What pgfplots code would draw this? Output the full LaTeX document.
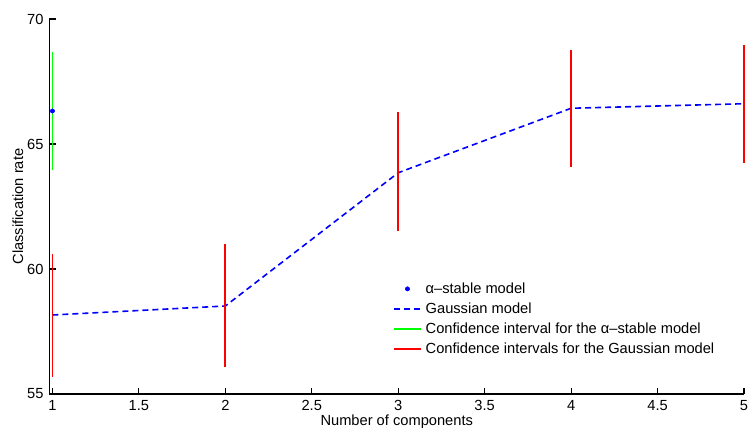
\documentclass[border=0pt]{standalone}
\usepackage{fontspec}
\setmainfont{Liberation Sans}
\usepackage{pgfplots}
\pgfplotsset{compat=1.18}
\begin{document}
\begin{tikzpicture}
\begin{axis}[
  scale only axis,
  width=520.875pt, height=281.25pt,
  xmin=0.983, xmax=5, ymin=55, ymax=70,
  axis lines=left,
  axis line style={-, line width=0.9pt},
  tick style={line width=0.9pt, black},
  major tick length=4.5pt,
  tick align=inside,
  xtick={1,1.5,2,2.5,3,3.5,4,4.5,5},
  ytick={55,60,65,70},
  /pgf/number format/assume math mode=true,
  tick label style={font=\fontsize{11}{13}\selectfont},
  xticklabel style={yshift=-1pt},
  yticklabel style={xshift=-1pt},
  label style={font=\fontsize{11}{13}\selectfont},
  xlabel={Number of components},
  ylabel={Classification rate},
  xlabel style={at={(axis description cs:0.5,-0.0747)}, anchor=center},
  ylabel style={at={(axis description cs:-0.0454,0.5)}, anchor=center},
  legend image code/.code={\draw[mark repeat=2,mark phase=2,#1] plot coordinates {(0cm,0cm) (0.35cm,0cm) (0.7cm,0cm)};},
  legend style={at={(axis description cs:0.4946,0.305)}, anchor=north west, draw=none, fill=none,
    inner sep=0pt, row sep=1.6pt, font=\fontsize{11}{13}\selectfont, cells={anchor=west},
    /tikz/every odd column/.append style={column sep=1pt}},
  legend cell align=left,
  clip=false,
]
\addplot[color=blue, only marks, mark=*, mark size=1.6pt] coordinates {(1,66.32)};
\addlegendentry{α–stable model}
\addplot[color=blue, line width=1.2pt, dash pattern=on 4.5pt off 3pt] coordinates {
  (1,58.16) (2,58.52) (3,63.85) (4,66.43) (5,66.61)};
\addlegendentry{Gaussian model}
\addplot[color=green, line width=1.4pt] coordinates {(1,63.97) (1,68.67)};
\addlegendentry{Confidence interval for the α–stable model}
\addplot[color=red, line width=1.4pt] coordinates {(1,55.69) (1,60.6)};
\addlegendentry{Confidence intervals for the Gaussian model}
\addplot[color=red, line width=1.4pt, forget plot] coordinates {(2,56.07) (2,61.0)};
\addplot[color=red, line width=1.4pt, forget plot] coordinates {(3,61.5) (3,66.27)};
\addplot[color=red, line width=1.4pt, forget plot] coordinates {(4,64.07) (4,68.76)};
\addplot[color=red, line width=1.4pt, forget plot] coordinates {(5,64.25) (5,68.96)};
\coordinate (ll) at (rel axis cs:0,0);
\coordinate (ur) at (rel axis cs:1,1);
\end{axis}
\pgfresetboundingbox
\path[use as bounding box] ([shift={(-37.125pt,-28.5pt)}]ll) rectangle ([shift={(3pt,14.25pt)}]ur);
\end{tikzpicture}
\end{document}
